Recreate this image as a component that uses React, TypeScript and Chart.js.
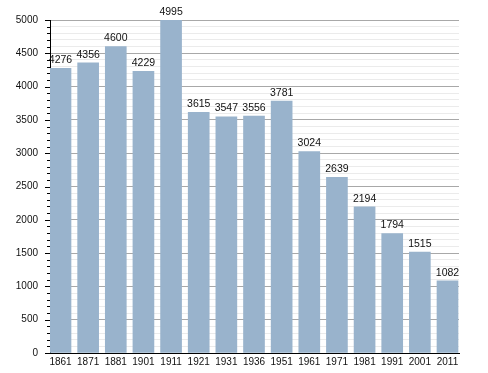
import React, { useEffect, useRef } from "react";
import { Chart, registerables } from "chart.js";

Chart.register(...registerables);

const years = ["1861", "1871", "1881", "1901", "1911", "1921", "1931", "1936", "1951", "1961", "1971", "1981", "1991", "2001", "2011"];
const population = [4276, 4356, 4600, 4229, 4995, 3615, 3547, 3556, 3781, 3024, 2639, 2194, 1794, 1515, 1082];

const FONT = "'Liberation Sans', Arial, sans-serif";

const tickPlugin = {
  id: "tickMarks",
  afterDraw(chart: any) {
    const ctx = chart.ctx;
    const y = chart.scales.y;
    const left = chart.chartArea.left;
    ctx.save();
    ctx.strokeStyle = "#000";
    ctx.lineWidth = 1;
    y.ticks.forEach((t: any) => {
      const py = Math.round(y.getPixelForValue(t.value)) + 0.5;
      const len = t.value % 500 === 0 ? 5 : 3;
      ctx.beginPath();
      ctx.moveTo(left - len, py);
      ctx.lineTo(left, py);
      ctx.stroke();
    });
    ctx.restore();
  },
};

const valuePlugin = {
  id: "valueLabels",
  afterDatasetsDraw(chart: any) {
    const ctx = chart.ctx;
    const meta = chart.getDatasetMeta(0);
    ctx.save();
    ctx.font = `10.5px ${FONT}`;
    ctx.fillStyle = "#111";
    ctx.textAlign = "center";
    ctx.textBaseline = "bottom";
    meta.data.forEach((bar: any, i: number) => {
      ctx.fillText(String(population[i]), bar.x, bar.y - 3);
    });
    ctx.restore();
  },
};

export default function App() {
  const ref = useRef<HTMLCanvasElement>(null);
  useEffect(() => {
    document.body.style.margin = "0";
    const chart = new Chart(ref.current!, {
      type: "bar",
      data: {
        datasets: [
          {
            data: population.map((v, i) => ({ x: i, y: v })),
            backgroundColor: "#99b3cc",
            barThickness: 21,
          },
        ],
      },
      options: {
        animation: false,
        responsive: false,
        layout: { padding: { top: 20, right: 29, left: 0, bottom: 0 } },
        plugins: { legend: { display: false }, tooltip: { enabled: false } },
        scales: {
          x: {
            type: "linear",
            min: -0.38,
            max: 14.416,
            offset: false,
            grid: { display: false, drawTicks: false },
            border: { color: "#000", width: 1 },
            ticks: {
              stepSize: 1,
              includeBounds: false,
              autoSkip: false,
              maxRotation: 0,
              padding: 3,
              color: "#111",
              font: { family: FONT, size: 10 },
              callback: (v: any) => (Number.isInteger(v) && years[v] ? years[v] : ""),
            },
            afterFit: (s: any) => {
              s.height = 20;
            },
          },
          y: {
            min: 0,
            max: 5000,
            grid: {
              drawTicks: false,
              color: (c: any) => (c.tick && c.tick.value % 500 === 0 ? "#a8a8a8" : "#ebebeb"),
            },
            border: { color: "#000", width: 1 },
            ticks: {
              stepSize: 100,
              autoSkip: false,
              padding: 12,
              color: "#111",
              font: { family: FONT, size: 10 },
              callback: (v: any) => (v % 500 === 0 ? String(v) : ""),
            },
            afterFit: (s: any) => {
              s.width = 50;
            },
          },
        },
      },
      plugins: [tickPlugin, valuePlugin],
    });
    return () => chart.destroy();
  }, []);
  return <canvas ref={ref} width={488} height={373} style={{ display: "block" }} />;
}
